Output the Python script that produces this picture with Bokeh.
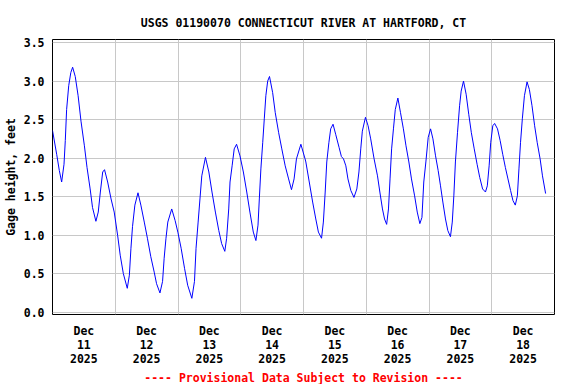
from bokeh.plotting import figure
from bokeh.models import FixedTicker, Range1d, Title
from bokeh.embed import file_html
from bokeh.resources import INLINE

# Hours since 2025-12-11 00:00 and gage height (feet)
hours = [0.0, 1.6, 2.6, 3.5, 4.4, 4.9, 5.4, 6.2, 7.0, 7.7, 8.7, 9.8, 10.9, 12.2, 13.2,
         14.4, 15.3, 16.6, 17.5, 18.3, 19.2, 19.9, 21.1, 22.4, 23.6, 24.9, 25.9, 27.1,
         28.6, 29.4, 30.0, 30.6, 31.5, 32.7, 33.8, 35.1, 36.3, 37.6, 38.9, 39.8, 41.1,
         42.1, 42.7, 43.4, 44.1, 45.6, 46.9, 48.0, 49.2, 50.5, 51.7, 53.3, 54.3, 54.9,
         55.7, 56.4, 57.1, 58.5, 59.8, 61.0, 62.3, 63.6, 64.7, 65.9, 66.6, 67.4, 67.9,
         68.7, 69.5, 70.4, 71.7, 73.0, 74.3, 75.5, 76.8, 77.8, 78.6, 79.1, 79.7, 80.4,
         81.0, 81.6, 82.3, 83.0, 84.2, 85.2, 86.5, 87.7, 89.0, 90.3, 91.4, 92.4, 93.3,
         95.0, 96.6, 96.9, 98.2, 99.5, 100.7, 101.7, 102.9, 103.6, 104.3, 104.9, 105.7,
         106.4, 107.3, 108.3, 109.6, 110.5, 111.3, 112.2, 113.0, 114.1, 115.3, 116.4,
         117.2, 117.9, 118.5, 119.7, 120.7, 121.7, 123.0, 124.3, 125.2, 126.2, 127.0,
         127.8, 128.5, 129.1, 129.7, 130.4, 131.1, 132.1, 133.1, 134.2, 135.2, 136.3,
         137.3, 138.5, 139.5, 140.5, 141.3, 142.0, 142.8, 143.7, 144.6, 145.5, 146.5,
         147.5, 148.4, 149.3, 150.3, 151.2, 152.2, 152.9, 153.5, 154.1, 154.9, 155.7,
         156.3, 157.2, 158.2, 159.2, 160.2, 161.3, 162.4, 163.4, 164.5, 165.6, 166.3,
         167.0, 167.6, 168.4, 169.1, 170.2, 171.2, 172.2, 173.2, 174.2, 175.2, 176.1,
         177.0, 177.8, 178.4, 179.0, 179.7, 180.5, 181.5, 182.4, 183.4, 184.4, 185.4,
         186.5, 187.4, 188.6]
gage_ft = [2.36, 2.05, 1.84, 1.69, 1.92, 2.23, 2.63, 2.94, 3.11, 3.18, 3.06, 2.81, 2.48,
           2.16, 1.88, 1.60, 1.36, 1.18, 1.30, 1.56, 1.82, 1.85, 1.69, 1.47, 1.30, 1.00,
           0.74, 0.50, 0.31, 0.48, 0.83, 1.11, 1.39, 1.55, 1.39, 1.17, 0.96, 0.72, 0.52,
           0.37, 0.25, 0.40, 0.70, 0.96, 1.17, 1.34, 1.19, 1.03, 0.83, 0.57, 0.35, 0.18,
           0.40, 0.83, 1.17, 1.47, 1.77, 2.01, 1.82, 1.56, 1.30, 1.06, 0.89, 0.79, 0.96,
           1.34, 1.69, 1.90, 2.12, 2.18, 2.03, 1.82, 1.56, 1.30, 1.04, 0.93, 1.13, 1.47,
           1.86, 2.20, 2.51, 2.81, 3.00, 3.06, 2.85, 2.59, 2.33, 2.12, 1.90, 1.73, 1.59,
           1.73, 1.99, 2.18, 1.99, 1.95, 1.69, 1.43, 1.21, 1.04, 0.96, 1.17, 1.56, 1.95,
           2.20, 2.38, 2.44, 2.31, 2.14, 2.02, 1.99, 1.90, 1.73, 1.58, 1.49, 1.60, 1.82,
           2.12, 2.35, 2.53, 2.42, 2.25, 1.99, 1.77, 1.56, 1.34, 1.21, 1.14, 1.34, 1.73,
           2.12, 2.38, 2.63, 2.78, 2.59, 2.38, 2.16, 1.95, 1.73, 1.51, 1.30, 1.15, 1.23,
           1.69, 1.95, 2.27, 2.38, 2.25, 2.03, 1.84, 1.64, 1.43, 1.21, 1.06, 0.98, 1.17,
           1.51, 1.95, 2.33, 2.68, 2.87, 3.00, 2.83, 2.57, 2.33, 2.12, 1.92, 1.75, 1.60,
           1.56, 1.64, 1.90, 2.20, 2.42, 2.45, 2.38, 2.23, 2.05, 1.88, 1.73, 1.58, 1.45,
           1.39, 1.51, 1.86, 2.20, 2.51, 2.81, 2.99, 2.89, 2.68, 2.42, 2.20, 1.99, 1.77,
           1.54]

y_ticks = [0.0, 0.5, 1.0, 1.5, 2.0, 2.5, 3.0, 3.5]
y_tick_labels = ["0.0", "0.5", "1.0", "1.5", "2.0", "2.5", "3.0", "3.5"]
day_ticks = [12, 36, 60, 84, 108, 132, 156, 180]
day_labels = ["Dec\n11\n2025", "Dec\n12\n2025", "Dec\n13\n2025", "Dec\n14\n2025",
              "Dec\n15\n2025", "Dec\n16\n2025", "Dec\n17\n2025", "Dec\n18\n2025"]
midnight_ticks = [24, 48, 72, 96, 120, 144, 168]

title_text = "USGS 01190070 CONNECTICUT RIVER AT HARTFORD, CT"
footer_text = "---- Provisional Data Subject to Revision ----"
y_label = "Gage height, feet"

FONT = "DejaVu Sans Mono"
FS = "11.5px"

p = figure(width=576, height=384, output_backend="svg", toolbar_location=None,
           x_range=Range1d(0, 192), y_range=Range1d(-0.03, 3.54),
           min_border_left=51, min_border_right=22, min_border_top=39,
           min_border_bottom=68)

p.background_fill_color = "white"
p.border_fill_color = "white"
p.outline_line_color = "black"
p.outline_line_width = 1

p.line(hours, gage_ft, line_color="#0000ff", line_width=1)

# axes
p.xaxis.ticker = FixedTicker(ticks=day_ticks)
p.xaxis.major_label_overrides = {t: s for t, s in zip(day_ticks, day_labels)}
p.yaxis.ticker = FixedTicker(ticks=y_ticks)
p.yaxis.major_label_overrides = {t: s for t, s in zip(y_ticks, y_tick_labels)}
for ax in (p.xaxis, p.yaxis):
    ax.major_tick_line_color = None
    ax.minor_tick_line_color = None
    ax.major_tick_out = 0
    ax.major_tick_in = 0
    ax.axis_line_color = None
    ax.major_label_text_font = FONT
    ax.major_label_text_font_size = FS
    ax.major_label_text_font_style = "bold"
    ax.major_label_text_color = "black"
    ax.major_label_standoff = 8
p.xaxis.major_label_text_line_height = 1.0
p.xaxis.major_label_standoff = 9
p.yaxis.axis_label = y_label
p.yaxis.axis_label_text_font = FONT
p.yaxis.axis_label_text_font_size = FS
p.yaxis.axis_label_text_font_style = "bold"
p.yaxis.axis_label_text_color = "black"
p.yaxis.axis_label_standoff = 3

# grids
p.xgrid.ticker = FixedTicker(ticks=midnight_ticks)
p.ygrid.ticker = FixedTicker(ticks=y_ticks)
for g in (p.xgrid, p.ygrid):
    g.grid_line_color = "#c8c8c8"
    g.grid_line_width = 1

# title and footer
p.title.text = title_text
p.title.align = "center"
p.title.text_font = FONT
p.title.text_font_size = FS
p.title.text_font_style = "bold"
p.title.text_color = "black"
p.title.standoff = 20

footer = Title(text=footer_text, align="center", text_font=FONT, text_font_size=FS,
               text_font_style="bold", text_color="#ff0000", standoff=0)
p.add_layout(footer, "below")

open("out.html", "w").write(file_html(p, INLINE))
